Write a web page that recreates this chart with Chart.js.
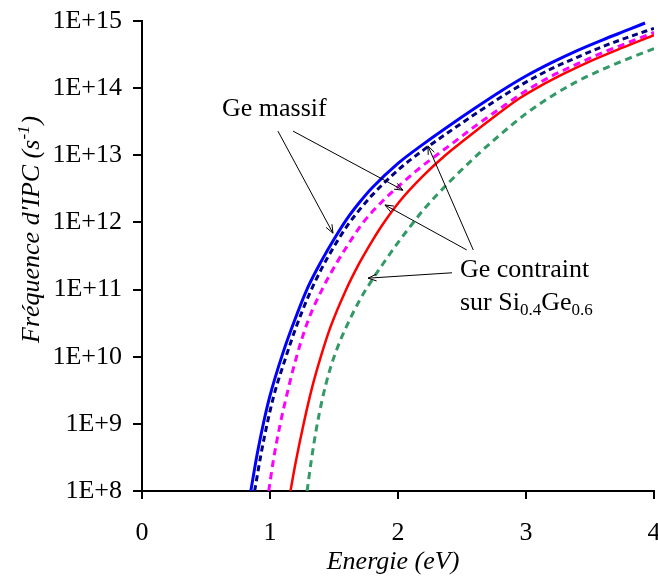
<!DOCTYPE html>
<html>
<head>
<meta charset="utf-8">
<script src="https://cdn.jsdelivr.net/npm/chart.js@4.4.1/dist/chart.umd.min.js"></script>
<style>
  html, body { margin: 0; padding: 0; background: #fff; }
  canvas { display: block; }
</style>
</head>
<body>
<canvas id="chart" width="658" height="581"></canvas>
<script>
// axis ticks
const xTicks = [0, 1, 2, 3, 4];
const yTickExps = [8, 9, 10, 11, 12, 13, 14, 15];
const yTickLabels = ['1E+8', '1E+9', '1E+10', '1E+11', '1E+12', '1E+13', '1E+14', '1E+15'];

// curves: energy (eV) and log10 of the frequency (s-1)
const blueE   = [0.85, 0.9, 0.95, 1.0, 1.1, 1.2, 1.3, 1.4, 1.5, 1.6, 1.7, 1.8, 2.0, 2.2, 2.4, 2.6, 2.8, 3.0, 3.2, 3.4, 3.6, 3.8, 3.93];
const blueLog = [8.0, 8.55, 9.02, 9.42, 10.05, 10.58, 11.05, 11.42, 11.75, 12.05, 12.3, 12.52, 12.88, 13.17, 13.44, 13.7, 13.95, 14.18, 14.38, 14.56, 14.72, 14.87, 14.97];

const navyE   = [0.88, 0.93, 0.98, 1.03, 1.125, 1.2, 1.3, 1.4, 1.5, 1.6, 1.7, 1.8, 2.0, 2.2, 2.4, 2.6, 2.8, 3.0, 3.2, 3.4, 3.6, 3.8, 4.0];
const navyLog = [8.0, 8.55, 9.02, 9.42, 10.0, 10.42, 10.9, 11.3, 11.64, 11.94, 12.19, 12.41, 12.78, 13.08, 13.35, 13.61, 13.86, 14.09, 14.29, 14.46, 14.62, 14.76, 14.89];

const magE    = [0.99, 1.03, 1.08, 1.13, 1.2, 1.3, 1.42, 1.5, 1.6, 1.72, 1.88, 2.0, 2.15, 2.3, 2.42, 2.6, 2.8, 3.0, 3.2, 3.4, 3.6, 3.8, 4.0];
const magLog  = [8.0, 8.5, 9.0, 9.42, 9.95, 10.55, 11.05, 11.33, 11.64, 11.98, 12.32, 12.53, 12.78, 13.0, 13.17, 13.43, 13.7, 13.96, 14.18, 14.36, 14.53, 14.68, 14.83];

const redE    = [1.16, 1.2, 1.265, 1.33, 1.4, 1.47, 1.59, 1.7, 1.8, 1.88, 2.02, 2.2, 2.37, 2.52, 2.7, 2.95, 3.1, 3.3, 3.5, 3.75, 4.0];
const redLog  = [8.0, 8.42, 9.02, 9.55, 10.02, 10.43, 10.98, 11.4, 11.73, 11.97, 12.33, 12.7, 13.0, 13.23, 13.5, 13.85, 14.02, 14.22, 14.4, 14.6, 14.79];

const greenE  = [1.29, 1.32, 1.36, 1.41, 1.47, 1.53, 1.6, 1.7, 1.8, 1.9, 2.0, 2.1, 2.2, 2.4, 2.6, 2.8, 3.0, 3.2, 3.4, 3.6, 3.8, 4.0];
const greenLog = [8.0, 8.42, 8.9, 9.38, 9.82, 10.15, 10.46, 10.84, 11.15, 11.43, 11.7, 11.95, 12.19, 12.6, 12.97, 13.31, 13.62, 13.88, 14.1, 14.28, 14.44, 14.59];

// annotation arrows, [x, log10 y] for start and tip
const massifArrows = [
  [[1.062, 13.36], [1.492, 11.84]],
  [[1.180, 13.36], [2.039, 12.48]]
];
const contraintArrows = [
  [[2.537, 11.59], [1.898, 12.26]],
  [[2.588, 11.59], [2.234, 13.14]],
  [[2.422, 11.25], [1.766, 11.17]]
];

const SERIF = '"Liberation Serif", "Times New Roman", serif';

function pts(xs, logs) {
  return xs.map((x, i) => ({ x, y: Math.pow(10, logs[i]) }));
}

function arrow(ctx, x0, y0, x1, y1) {
  const a = Math.atan2(y1 - y0, x1 - x0);
  const L = 9, s = 0.38;
  ctx.beginPath();
  ctx.moveTo(x0, y0);
  ctx.lineTo(x1, y1);
  ctx.moveTo(x1 - L * Math.cos(a - s), y1 - L * Math.sin(a - s));
  ctx.lineTo(x1, y1);
  ctx.lineTo(x1 - L * Math.cos(a + s), y1 - L * Math.sin(a + s));
  ctx.stroke();
}

const labelsPlugin = {
  id: 'labels',
  afterDraw(chart) {
    const ctx = chart.ctx;
    const sx = chart.scales.x, sy = chart.scales.y;
    const px = v => sx.getPixelForValue(v);
    const py = e => sy.getPixelForValue(Math.pow(10, e));
    ctx.save();
    ctx.fillStyle = '#000';
    ctx.strokeStyle = '#000';
    ctx.lineWidth = 1;

    // arrows
    [...massifArrows, ...contraintArrows].forEach(([s, t]) => {
      arrow(ctx, px(s[0]), py(s[1]), px(t[0]), py(t[1]));
    });

    // texts
    ctx.textBaseline = 'alphabetic';
    ctx.textAlign = 'left';
    ctx.font = '26px ' + SERIF;
    ctx.fillText('Ge massif', px(0.625), py(13.585));
    ctx.fillText('Ge contraint', px(2.484), py(11.18));

    let x = px(2.484);
    const yb = py(10.70);
    const part = (txt, big, dy) => {
      ctx.font = (big ? '26px ' : '17px ') + SERIF;
      ctx.fillText(txt, x, yb + dy);
      x += ctx.measureText(txt).width;
    };
    part('sur Si', true, 0);
    part('0.4', false, 5);
    part('Ge', true, 0);
    part('0.6', false, 5);

    // x title
    ctx.font = 'italic 26px ' + SERIF;
    ctx.textAlign = 'center';
    ctx.fillText('Energie (eV)', (chart.chartArea.left + chart.chartArea.right) / 2 - 5, 569);

    // y title with superscript
    ctx.translate(38.5, 343);
    ctx.rotate(-Math.PI / 2);
    ctx.textAlign = 'left';
    ctx.font = 'italic 26px ' + SERIF;
    const main = 'Fréquence d\'IPC (s';
    ctx.fillText(main, 0, 0);
    let w = ctx.measureText(main).width;
    ctx.font = 'italic 17px ' + SERIF;
    ctx.fillText('-1', w, -10);
    w += ctx.measureText('-1').width + 1;
    ctx.font = 'italic 26px ' + SERIF;
    ctx.fillText(')', w, 0);
    ctx.restore();
  }
};

const dashed = [7, 5];

new Chart(document.getElementById('chart'), {
  type: 'line',
  data: {
    datasets: [
      { label: 'green', data: pts(greenE, greenLog), borderColor: '#339966', borderWidth: 3, borderDash: dashed },
      { label: 'red', data: pts(redE, redLog), borderColor: '#ff0000', borderWidth: 2.5 },
      { label: 'magenta', data: pts(magE, magLog), borderColor: '#ff00ff', borderWidth: 3, borderDash: dashed },
      { label: 'navy', data: pts(navyE, navyLog), borderColor: '#000080', borderWidth: 3, borderDash: [6, 4] },
      { label: 'blue', data: pts(blueE, blueLog), borderColor: '#0000ff', borderWidth: 3 }
    ]
  },
  options: {
    responsive: false,
    animation: false,
    devicePixelRatio: 1,
    layout: { padding: { left: 0, right: 4, top: 21, bottom: 0 } },
    elements: {
      point: { radius: 0 },
      line: { cubicInterpolationMode: 'monotone', fill: false }
    },
    plugins: { legend: { display: false }, tooltip: { enabled: false } },
    scales: {
      x: {
        type: 'linear',
        min: 0, max: 4,
        afterBuildTicks: (s) => { s.ticks = xTicks.map(v => ({ value: v })); },
        afterFit: (s) => { s.height = 90; s.paddingLeft = 0; s.paddingRight = 0; },
        ticks: { color: '#000', font: { family: SERIF, size: 26 }, padding: 19, maxRotation: 0 },
        grid: { drawOnChartArea: false, tickLength: 8, color: '#000', lineWidth: 2 },
        border: { color: '#000', width: 2 }
      },
      y: {
        type: 'logarithmic',
        min: 1e8, max: 1e15,
        afterBuildTicks: (s) => { s.ticks = yTickExps.map(e => ({ value: Math.pow(10, e) })); },
        afterFit: (s) => { s.width = 142; s.paddingTop = 0; s.paddingBottom = 0; },
        ticks: {
          color: '#000', font: { family: SERIF, size: 26 }, padding: 11,
          callback: (v) => yTickLabels[yTickExps.indexOf(Math.round(Math.log10(v)))]
        },
        grid: { drawOnChartArea: false, tickLength: 9, color: '#000', lineWidth: 2 },
        border: { color: '#000', width: 2 }
      }
    }
  },
  plugins: [labelsPlugin]
});
</script>
</body>
</html>
